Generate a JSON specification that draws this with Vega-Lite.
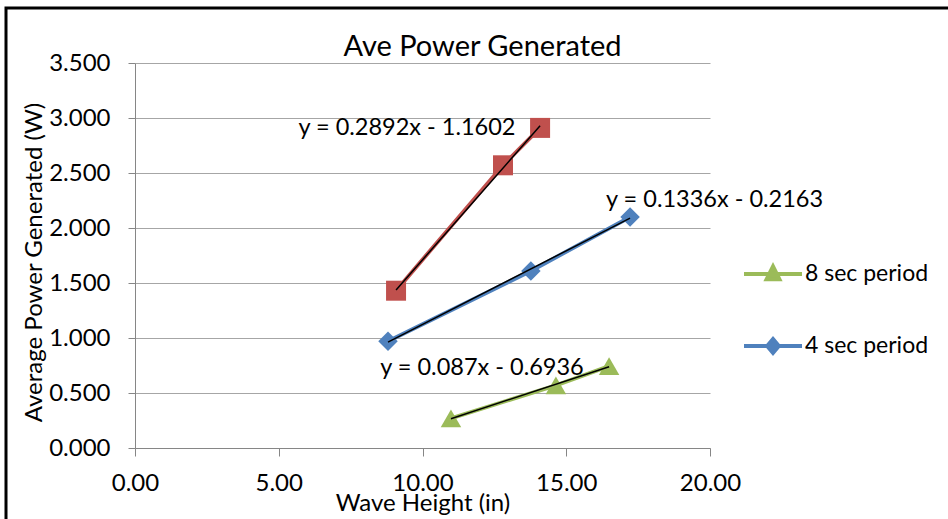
{
  "$schema": "https://vega.github.io/schema/vega-lite/v6.json",
  "width": 945,
  "height": 514,
  "autosize": {"type": "none"},
  "padding": {"left": 6, "top": 8, "right": 0, "bottom": 0},
  "background": "white",
  "config": {
    "font": "Lato",
    "view": {"stroke": "#000000", "strokeWidth": 3},
    "axis": {"labelColor": "#000000", "titleColor": "#000000", "titleFontWeight": "normal", "labelFontSize": 24, "titleFontSize": 24, "labelFlush": false}
  },
  "title": {"text": "Ave Power Generated", "fontSize": 29, "fontWeight": "normal", "color": "#000000", "anchor": "middle", "frame": "group", "offset": -77, "baseline": "alphabetic", "dx": 4},
  "datasets": {
    "pts": [
      {"s": "2 sec period", "x": 9.08, "y": 1.43},
      {"s": "2 sec period", "x": 12.8, "y": 2.57},
      {"s": "2 sec period", "x": 14.09, "y": 2.91},
      {"s": "4 sec period", "x": 8.8, "y": 0.97},
      {"s": "4 sec period", "x": 13.77, "y": 1.61},
      {"s": "4 sec period", "x": 17.22, "y": 2.1},
      {"s": "8 sec period", "x": 10.99, "y": 0.27},
      {"s": "8 sec period", "x": 14.64, "y": 0.57},
      {"s": "8 sec period", "x": 16.49, "y": 0.745}
    ],
    "eqs": [
      {"label": "y = 0.2892x - 1.1602", "x": 9.46, "y": 2.91},
      {"label": "y = 0.1336x - 0.2163", "x": 20.16, "y": 2.255},
      {"label": "y = 0.087x - 0.6936", "x": 12.07, "y": 0.727}
    ]
  },
  "layer": [
    {
      "data": {"name": "pts"},
      "mark": {"type": "line", "strokeWidth": 4},
      "encoding": {
        "x": {"field": "x", "type": "quantitative",
          "scale": {"domain": [0, 20], "range": [129, 704], "nice": false, "zero": false},
          "axis": {"title": "Wave Height (in)", "values": [0, 5, 10, 15, 20], "format": ".2f", "offset": -74, "grid": false,
            "domainColor": "#868686", "tickColor": "#868686", "tickSize": 8, "labelPadding": 15, "titlePadding": -4}},
        "y": {"field": "y", "type": "quantitative",
          "scale": {"domain": [0, 3.5], "range": [440, 55], "nice": false, "zero": false},
          "axis": {"title": "Average Power Generated (W)", "values": [0, 0.5, 1, 1.5, 2, 2.5, 3, 3.5], "format": ".3f", "offset": -129,
            "grid": true, "gridColor": "#A6A6A6", "domainColor": "#868686", "tickColor": "#868686", "tickSize": 7, "labelPadding": 18, "titlePadding": 2, "titleFontSize": 24, "titleY": 254}},
        "color": {"field": "s", "type": "nominal",
          "scale": {"domain": ["8 sec period", "4 sec period", "2 sec period"], "range": ["#9BBB59", "#4F81BD", "#C0504D"]},
          "legend": {"title": null, "values": ["8 sec period", "4 sec period"], "orient": "none", "legendX": 736, "legendY": 235,
            "padding": 0, "rowPadding": 27, "labelFontSize": 23, "labelColor": "#000000", "labelOffset": 1, "symbolSize": 3364,
            "symbolStrokeWidth": 4,
            "encode": {"symbols": {"update": {
              "shape": {"signal": "datum.value === '8 sec period' ? 'M-1,0L1,0M0,-0.26L0.22,0.18L-0.22,0.18Z' : 'M-1,0L1,0M0,-0.24L0.2,0L0,0.24L-0.2,0Z'"},
              "fill": {"signal": "datum.value === '8 sec period' ? '#9BBB59' : '#4F81BD'"},
              "stroke": {"signal": "datum.value === '8 sec period' ? '#9BBB59' : '#4F81BD'"},
              "strokeWidth": {"value": 4},
              "size": {"value": 3364}
            }}}}}
      }
    },
    {
      "data": {"name": "pts"},
      "transform": [{"filter": "datum.s === '8 sec period'"}],
      "mark": {"type": "point", "filled": true, "opacity": 1, "shape": "triangle-up", "color": "#9BBB59", "size": 420},
      "encoding": {
        "x": {"field": "x", "type": "quantitative"},
        "y": {"field": "y", "type": "quantitative"}
      }
    },
    {
      "data": {"name": "pts"},
      "transform": [{"filter": "datum.s === '4 sec period'"}],
      "mark": {"type": "point", "filled": true, "opacity": 1, "shape": "diamond", "color": "#4F81BD", "size": 380},
      "encoding": {
        "x": {"field": "x", "type": "quantitative"},
        "y": {"field": "y", "type": "quantitative"}
      }
    },
    {
      "data": {"name": "pts"},
      "transform": [{"filter": "datum.s === '2 sec period'"}],
      "mark": {"type": "point", "filled": true, "opacity": 1, "shape": "square", "color": "#C0504D", "size": 400},
      "encoding": {
        "x": {"field": "x", "type": "quantitative"},
        "y": {"field": "y", "type": "quantitative"}
      }
    },
    {
      "data": {"name": "pts"},
      "transform": [{"regression": "y", "on": "x", "groupby": ["s"]}],
      "mark": {"type": "line", "color": "#000000", "strokeWidth": 1.5},
      "encoding": {
        "x": {"field": "x", "type": "quantitative"},
        "y": {"field": "y", "type": "quantitative"},
        "detail": {"field": "s", "type": "nominal"}
      }
    },
    {
      "data": {"name": "eqs"},
      "mark": {"type": "text", "fontSize": 23.5, "color": "#000000", "align": "center", "baseline": "middle"},
      "encoding": {
        "x": {"field": "x", "type": "quantitative"},
        "y": {"field": "y", "type": "quantitative"},
        "text": {"field": "label"}
      }
    }
  ]
}
